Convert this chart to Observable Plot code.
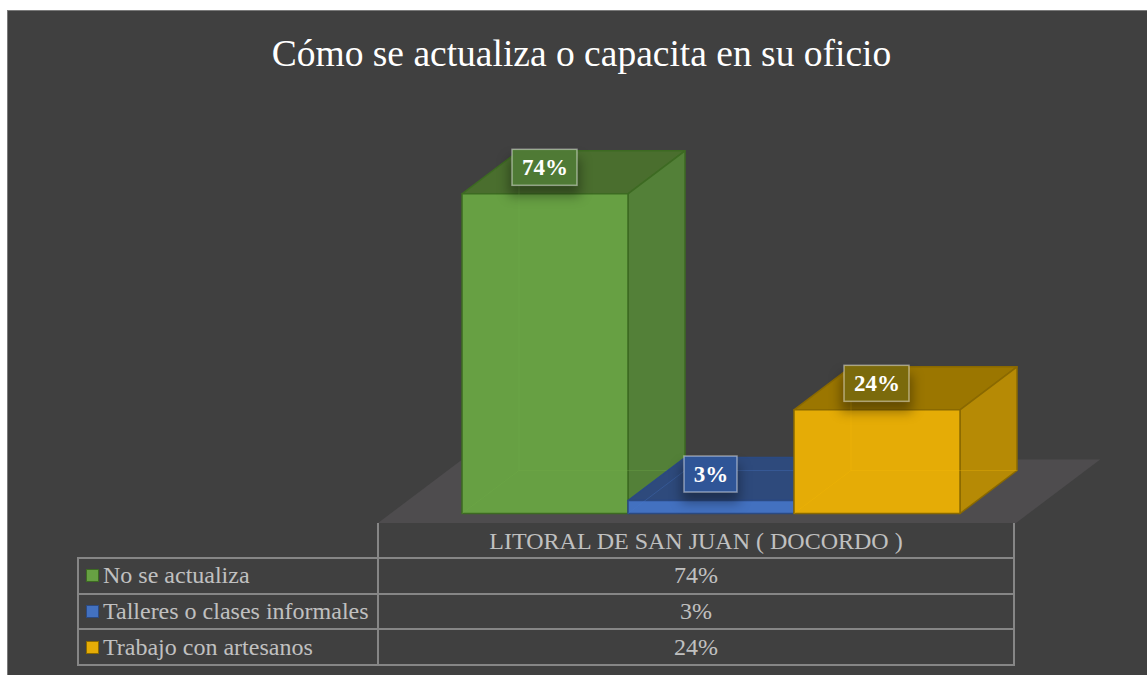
<!DOCTYPE html>
<html><head><meta charset="utf-8">
<script src="https://cdn.jsdelivr.net/npm/d3@7"></script>
<script src="https://cdn.jsdelivr.net/npm/@observablehq/plot@0.6"></script>
<style>
html,body{margin:0;padding:0;background:#fff;width:1147px;height:675px;overflow:hidden;}
#frame{position:absolute;left:7px;top:10px;width:1160px;height:690px;background:#404040;border:1.5px solid #7a7a7a;box-sizing:border-box;}
#title{position:absolute;left:81.5px;width:1000px;top:35px;line-height:37px;font-size:37.5px;font-family:"Liberation Serif","Times New Roman",serif;color:#ffffff;text-align:center;white-space:nowrap;}
#plot{position:absolute;left:0;top:0;}
.cell{position:absolute;box-sizing:border-box;border:2px solid #868686;color:#c0c0c0;font-size:24px;font-family:"Liberation Serif","Times New Roman",serif;display:flex;align-items:center;white-space:nowrap;}
.sq{box-sizing:border-box;width:13px;height:13px;border:1.5px solid;margin-left:7px;margin-right:4px;flex:none;}
</style></head><body>
<div id="frame"></div>
<div id="title"></div>
<div id="table"></div>
<div id="plot"></div>
<script>
// ---- data ----
const title = "Cómo se actualiza o capacita en su oficio";
const region = "LITORAL DE SAN JUAN ( DOCORDO )";
const categories = ["No se actualiza", "Talleres o clases informales", "Trabajo con artesanos"];
const values = [74, 3, 24];
const valueLabels = ["74%", "3%", "24%"];

// ---- styles ----
const frontColors = ["#67a043", "#4371c0", "#e5ac06"];
const topColors = ["#4a6e2e", "#2e4a7c", "#9b7600"];
const sideColors = ["#538038", "#385e9e", "#b68a05"];
const edgeColors = ["#3d6a22", "#2b4a82", "#8a6900"];
const labelFills = ["#4f7a35", "#2f5597", "#7b6a0c"];

// ---- layout ----
const X_START = 461.5, PX_X = 166, BASE = 513, PX_Y = 4.32, DEPTH_X = 57, DEPTH_Y = 43;
const dX = DEPTH_X / PX_X, dY = DEPTH_Y / PX_Y;
const P = (x, y, z) => ({x: x + z * dX, y: y + z * dY});

document.getElementById("title").textContent = title;

// floor platform (in data units)
const floorX0 = -0.43, floorX1 = 3.413, floorZ0 = -0.221, floorZ1 = 1.256;
const floor = [P(floorX0, 0, floorZ0), P(floorX1, 0, floorZ0), P(floorX1, 0, floorZ1), P(floorX0, 0, floorZ1)];

const marks = [Plot.line(floor, {x: "x", y: "y", fill: "#4e4c4e", stroke: "none", curve: "linear-closed"})];

values.forEach((v, i) => {
  const faces = [];
  const add = (id, pts, fill, stroke) => pts.forEach(p => faces.push({...p, id, fill, stroke}));
  add("top", [P(i, v, 0), P(i + 1, v, 0), P(i + 1, v, 1), P(i, v, 1)], topColors[i], edgeColors[i]);
  add("side", [P(i + 1, 0, 0), P(i + 1, 0, 1), P(i + 1, v, 1), P(i + 1, v, 0)], sideColors[i], edgeColors[i]);
  add("front", [P(i, 0, 0), P(i + 1, 0, 0), P(i + 1, v, 0), P(i, v, 0)], frontColors[i], edgeColors[i]);
  marks.push(Plot.line(faces, {x: "x", y: "y", z: "id", fill: "fill", stroke: "stroke", strokeWidth: 1.5, curve: "linear-closed"}));
  const hidden = [];
  const light = d3.color(frontColors[i]).brighter(0.2).formatHex();
  [[P(i, 0, 1), P(i, v, 1)], [P(i, 0, 1), P(i + 1, 0, 1)], [P(i, 0, 1), P(i, 0, 0)]].forEach((seg, k) =>
    seg.forEach(p => hidden.push({...p, id: "h" + k})));
  marks.push(Plot.line(hidden, {x: "x", y: "y", z: "id", stroke: light, strokeOpacity: 0.3, strokeWidth: 1}));
});

const labels = values.map((v, i) => ({
  cx: i + 0.5,
  cy: v + 26 / PX_Y,
  half: (12 * valueLabels[i].length + 29) / 2 / PX_X,
  hh: 18 / PX_Y,
  fill: labelFills[i],
  text: valueLabels[i]
}));

marks.push(Plot.rect(labels, {x1: d => d.cx - d.half * 1.1, x2: d => d.cx + d.half * 1.1, y1: d => d.cy - d.hh * 1.2, y2: d => d.cy + d.hh * 0.9, dy: 7, fill: "#000", fillOpacity: 0.35, ariaLabel: "label-shadow", imageFilter: "blur(6px)"}));
marks.push(Plot.rect(labels, {x1: d => d.cx - d.half, x2: d => d.cx + d.half, y1: d => d.cy - d.hh, y2: d => d.cy + d.hh, fill: "fill", stroke: "#ffffff", strokeOpacity: 0.45, strokeWidth: 1.5}));
marks.push(Plot.text(labels, {x: "cx", y: "cy", text: "text", fill: "#ffffff", fontSize: 23, fontWeight: "bold", fontFamily: "Liberation Serif, Times New Roman, serif"}));

const svg = Plot.plot({
  width: 1147, height: 675, margin: 0,
  x: {type: "linear", domain: [0, 3], range: [X_START, X_START + 3 * PX_X], axis: null},
  y: {type: "linear", domain: [0, 100], range: [BASE, BASE - 100 * PX_Y], axis: null},
  color: {type: "identity"},
  style: {background: "transparent", overflow: "visible", fontFamily: "Liberation Serif, Times New Roman, serif"},
  marks
});
d3.select(svg).selectAll('g[aria-label="label-shadow"]').style("filter", "blur(6px)");
document.getElementById("plot").appendChild(svg);

// ---- data table ----
const tbl = document.getElementById("table");
function cell(left, top, width, height, html, extra) {
  const d = document.createElement("div");
  d.className = "cell";
  Object.assign(d.style, {left: left + "px", top: top + "px", width: width + "px", height: height + "px"}, extra || {});
  if (typeof html === "string") d.textContent = html; else d.appendChild(html);
  tbl.appendChild(d);
  return d;
}
cell(377, 523, 638, 36, region, {borderTop: "none", justifyContent: "center", paddingTop: "3px"});
const ROW_H = 35.7;
categories.forEach((c, i) => {
  const top = 557 + i * ROW_H;
  const frag = document.createElement("span");
  frag.style.display = "flex"; frag.style.alignItems = "center";
  const sq = document.createElement("span");
  sq.className = "sq";
  sq.style.background = frontColors[i];
  sq.style.borderColor = edgeColors[i];
  const t = document.createElement("span");
  t.textContent = c;
  frag.appendChild(sq); frag.appendChild(t);
  cell(77, top, 302, ROW_H + 2, frag);
  cell(377, top, 638, ROW_H + 2, valueLabels[i], {justifyContent: "center"});
});
</script>
</body></html>
